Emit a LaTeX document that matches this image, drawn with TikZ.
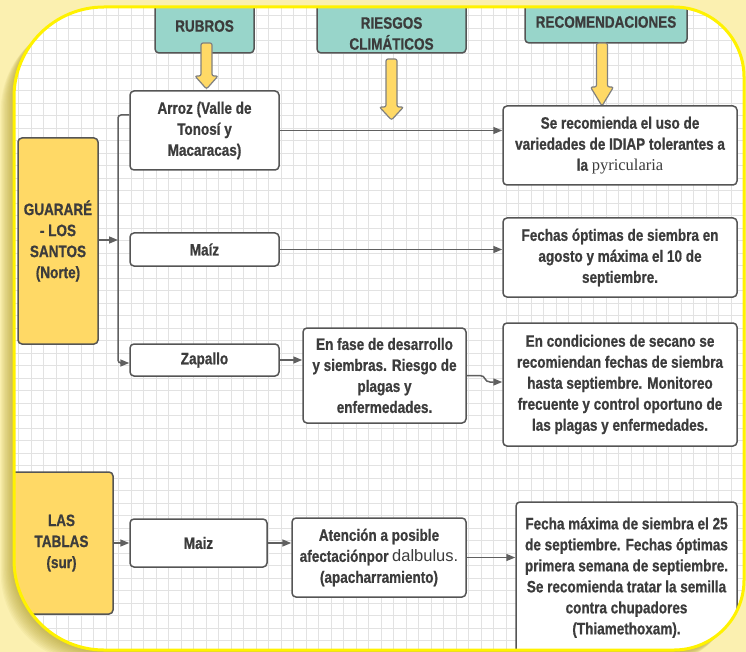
\documentclass[tikz,border=0pt]{standalone}
\usepackage{fontspec}
\setmainfont[FakeStretch=0.82, BoldFeatures={FakeBold=0.8}]{Liberation Sans}
\newfontfamily\pyrfont{Liberation Serif}
\newfontfamily\plainfont{Liberation Sans}
\usetikzlibrary{arrows.meta,calc}
\definecolor{bgyellow}{HTML}{FBF0B0}
\definecolor{shadowc}{HTML}{A08C10}
\definecolor{framey}{HTML}{FFF200}
\definecolor{teal}{HTML}{98D5CA}
\definecolor{boxy}{HTML}{FFD966}
\definecolor{edgec}{HTML}{555555}
\definecolor{linec}{HTML}{606060}
\definecolor{txtc}{HTML}{3C3C3C}
\definecolor{gridc}{HTML}{E2E2E2}
\tikzset{
  frameshape/.style={insert path={(14,330) [rounded corners=90pt] |- (380,7) [rounded corners=70pt] -| (744,330) |- (380,650) [rounded corners=90pt] -| (14,330) -- cycle}},
  gridline/.style={draw=gridc, line width=0.6pt},
  basebox/.style={draw=edgec, line width=1.5pt, rounded corners=4pt, inner sep=0pt, align=center,
     text=txtc, font=\fontsize{16.5}{21}\selectfont\bfseries},
  wbox/.style={basebox, fill=white},
  ybox/.style={basebox, fill=boxy},
  hdrbox/.style={basebox, fill=teal},
  hdrtext/.style={inner sep=0pt, align=center, text=txtc, font=\fontsize{16.5}{21}\selectfont\bfseries},
  yarrow/.style={fill=boxy, draw=linec!80, line width=1.2pt, rounded corners=2pt},
  conn/.style={draw=linec, line width=1.5pt, -{Triangle[length=9pt,width=7pt]}},
}
\begin{document}
\begin{tikzpicture}[x=1pt,y=-1pt]
\useasboundingbox (0,0) rectangle (746,652);
\fill[bgyellow] (0,0) rectangle (746,652);
% soft shadow
\foreach \i in {1,...,12} {
  \fill[shadowc, opacity=0.06, shift={(-\i*1.1,\i*1.1)}, frameshape];
}
\fill[white, frameshape];
\begin{scope}
\clip[frameshape];
% grid
\foreach \gx in {0,...,60} \draw[gridline] ({5.8+12.5*\gx},0) -- ({5.8+12.5*\gx},660);
\foreach \gy in {0,...,53} \draw[gridline] (0,{3+12.5*\gy}) -- (750,{3+12.5*\gy});

% header boxes
\node[hdrbox, minimum width=99pt, minimum height=70pt] (rubrosbox) at (204.5,18) {};
\node[hdrtext] (rubros) at (204.5,26) {RUBROS};
\node[hdrbox, minimum width=149pt, minimum height=70pt] (riesgosbox) at (391.5,18) {};
\node[hdrtext] (riesgos) at (391.5,33.5) {RIESGOS\\CLIMÁTICOS};
\node[hdrbox, minimum width=162pt, minimum height=70pt] (recobox) at (606,8) {};
\node[hdrtext] (reco) at (606,22) {RECOMENDACIONES};

% yellow arrows
\draw[yarrow] (201,43) -- (201,76) -- (195,76) -- (206.5,89) -- (218,76) -- (212,76) -- (212,43) -- cycle;
\draw[yarrow] (386,59) -- (386,107) -- (379.5,107) -- (391.5,120) -- (403.5,107) -- (397,107) -- (397,59) -- cycle;
\draw[yarrow] (596.5,43) -- (596.5,87) -- (590.5,87) -- (602,106) -- (613.5,87) -- (607.5,87) -- (607.5,43) -- cycle;

% region boxes
\node[ybox, minimum width=80pt, minimum height=206pt] (guarare) at (58,241) {GUARARÉ\\- LOS\\SANTOS\\(Norte)};
\node[ybox, minimum width=103pt, minimum height=142pt] (tablas) at (61.5,543) {LAS\\TABLAS\\(sur)};

% rubros
\node[wbox, minimum width=149pt, minimum height=79pt] (arroz) at (204.5,130.5) {Arroz (Valle de\\Tonosí y\\Macaracas)};
\node[wbox, minimum width=149pt, minimum height=33pt] (maiz) at (204.5,249.5) {Maíz};
\node[wbox, minimum width=149pt, minimum height=32pt] (zapallo) at (204.5,360) {Zapallo};
\node[wbox, minimum width=137pt, minimum height=48pt] (maizsur) at (198.5,543) {Maiz};

% riesgos
\node[wbox, minimum width=163pt, minimum height=95pt] (enfase) at (384.5,375.5) {En fase de desarrollo\\y siembras. Riesgo de\\plagas y\\enfermedades.};
\node[wbox, minimum width=174pt, minimum height=79pt] (atencion) at (379,557.5) {Atención a posible\\afectaciónpor {\plainfont\mdseries dalbulus.}\\(apacharramiento)};

% recomendaciones
\node[wbox, minimum width=234pt, minimum height=79pt] (rec1) at (620,145.5) {Se recomienda el uso de\\variedades de IDIAP tolerantes a\\la {\pyrfont\mdseries pyricularia}};
\node[wbox, minimum width=234pt, minimum height=79pt] (rec2) at (620,257.5) {Fechas óptimas de siembra en\\agosto y máxima el 10 de\\septiembre.};
\node[wbox, minimum width=234pt, minimum height=123pt] (rec3) at (620,384.5) {En condiciones de secano se\\recomiendan fechas de siembra\\hasta septiembre. Monitoreo\\frecuente y control oportuno de\\las plagas y enfermedades.};
\node[wbox, minimum width=221pt, minimum height=151pt] (rec4) at (626.5,577.5) {Fecha máxima de siembra el 25\\de septiembre. Fechas óptimas\\primera semana de septiembre.\\Se recomienda tratar  la semilla\\contra chupadores\\(Thiamethoxam).};

% connectors
\coordinate (busx) at (118,240);
\draw[conn, rounded corners=3pt] ([yshift=15.5pt]arroz.west) -| ([yshift=-3pt]zapallo.west -| busx) -- ([yshift=-3pt]zapallo.west);
\draw[conn] (guarare.east |- busx) -- (busx);
\draw[conn] (arroz.east) -- (arroz.east -| rec1.west);
\draw[conn] (maiz.east) -- (maiz.east -| rec2.west);
\draw[conn] (zapallo.east) -- (zapallo.east -| enfase.west);
\draw[conn] (enfase.east) -- (480,375.5) .. controls (486,375.5) and (484,382) .. (490,382) -- ([yshift=2.5pt]rec3.west);
\draw[conn] (tablas.east) -- (maizsur.west);
\draw[conn] (maizsur.east) -- (maizsur.east -| atencion.west);
\draw[conn] (atencion.east) -- (atencion.east -| rec4.west);
\end{scope}
\draw[framey, line width=3pt, frameshape];
\end{tikzpicture}
\end{document}
